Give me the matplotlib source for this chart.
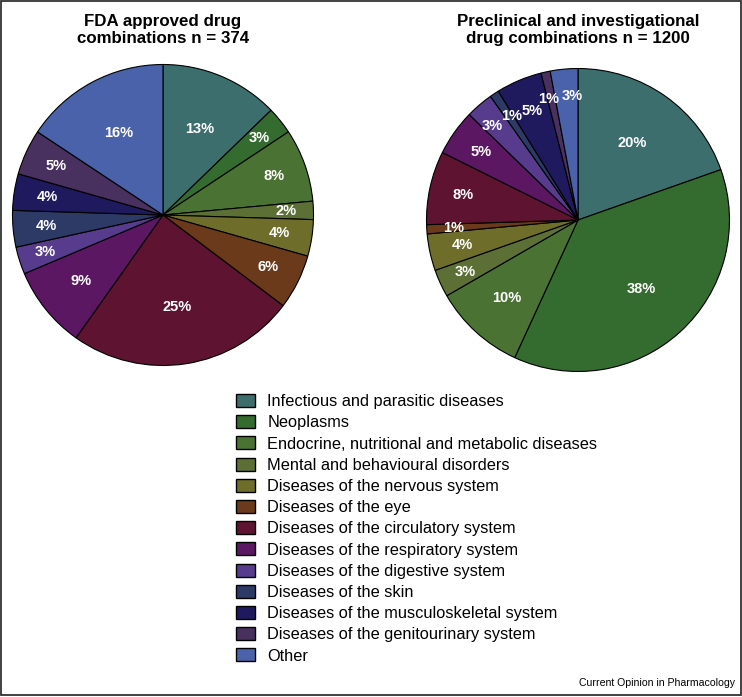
import matplotlib
matplotlib.use("Agg")
import matplotlib.pyplot as plt
from matplotlib.patches import Patch, Rectangle
import numpy as np

plt.rcParams['font.family'] = ['Liberation Sans', 'DejaVu Sans']

categories = [
    "Infectious and parasitic diseases",
    "Neoplasms",
    "Endocrine, nutritional and metabolic diseases",
    "Mental and behavioural disorders",
    "Diseases of the nervous system",
    "Diseases of the eye",
    "Diseases of the circulatory system",
    "Diseases of the respiratory system",
    "Diseases of the digestive system",
    "Diseases of the skin",
    "Diseases of the musculoskeletal system",
    "Diseases of the genitourinary system",
    "Other",
]
fda_pct = [13, 3, 8, 2, 4, 6, 25, 9, 3, 4, 4, 5, 16]
pre_pct = [20, 38, 10, 3, 4, 1, 8, 5, 3, 1, 5, 1, 3]
titles = ["FDA approved drug\ncombinations n = 374",
          "Preclinical and investigational\ndrug combinations n = 1200"]

colors = ["#3d6e6e", "#346b2e", "#4a7233", "#5c7035", "#6e6e2a", "#6a3a1a",
          "#5e1430", "#5c1763", "#573b8c", "#2e3a66", "#1f1a5e", "#48305f",
          "#4a62aa"]

W, H = 742, 697
fig = plt.figure(figsize=(W / 100, H / 100), dpi=100)


def label_r(p):
    if p >= 13:
        return 0.62
    if p >= 9:
        return 0.70
    if p <= 3:
        return 0.82
    return 0.78


def draw_pie(cx, cy, r, vals, title):
    ax = fig.add_axes([(cx - r) / W, (H - cy - r) / H, 2 * r / W, 2 * r / H])
    ax.pie(vals, colors=colors, startangle=90, counterclock=False,
           wedgeprops=dict(edgecolor='black', linewidth=0.8))
    total = sum(vals)
    mids = np.radians(90 - (np.cumsum(vals) - np.array(vals) / 2) / total * 360)
    rr = np.array([label_r(v) for v in vals])
    xs, ys = rr * np.cos(mids), rr * np.sin(mids)
    # spread crowded neighbours apart sideways
    for i in range(1, len(vals)):
        dx = xs[i] - xs[i - 1]
        if abs(ys[i] - ys[i - 1]) < 0.1 and abs(dx) < 0.15:
            s = (0.15 - abs(dx)) / 2 * np.sign(dx)
            xs[i] += s
            xs[i - 1] -= s
    for x, y, v in zip(xs, ys, vals):
        ax.text(x, y, f"{v}%", color='white', fontsize=10.5,
                fontweight='bold', ha='center', va='center')
    ax.set_xlim(-1.01, 1.01)
    ax.set_ylim(-1.01, 1.01)
    ax.set_aspect('equal')
    fig.text(cx / W, 1 - 30 / H, title, ha='center', va='center',
             fontsize=12.2, fontweight='bold', linespacing=1.15)


draw_pie(163, 215, 152, fda_pct, titles[0])
draw_pie(578, 220, 153, pre_pct, titles[1])

handles = [Patch(facecolor=c, edgecolor='black', linewidth=1.0) for c in colors]
fig.legend(handles, categories, loc='upper left',
           bbox_to_anchor=(236 / W, 1 - 394 / H), frameon=False,
           fontsize=11.8, handlelength=1.15, handleheight=0.85,
           handletextpad=0.75, labelspacing=0.365, borderpad=0,
           borderaxespad=0)

fig.text(735 / W, 1 - 683 / H, "Current Opinion in Pharmacology",
         ha='right', va='center', fontsize=7.6)

fig.add_artist(Rectangle((0.5 / W, 2.5 / H), (W - 1.5) / W, (H - 3) / H,
                         transform=fig.transFigure, fill=False,
                         edgecolor='#333333', linewidth=1.3))

fig.savefig("out.png", dpi=100)
